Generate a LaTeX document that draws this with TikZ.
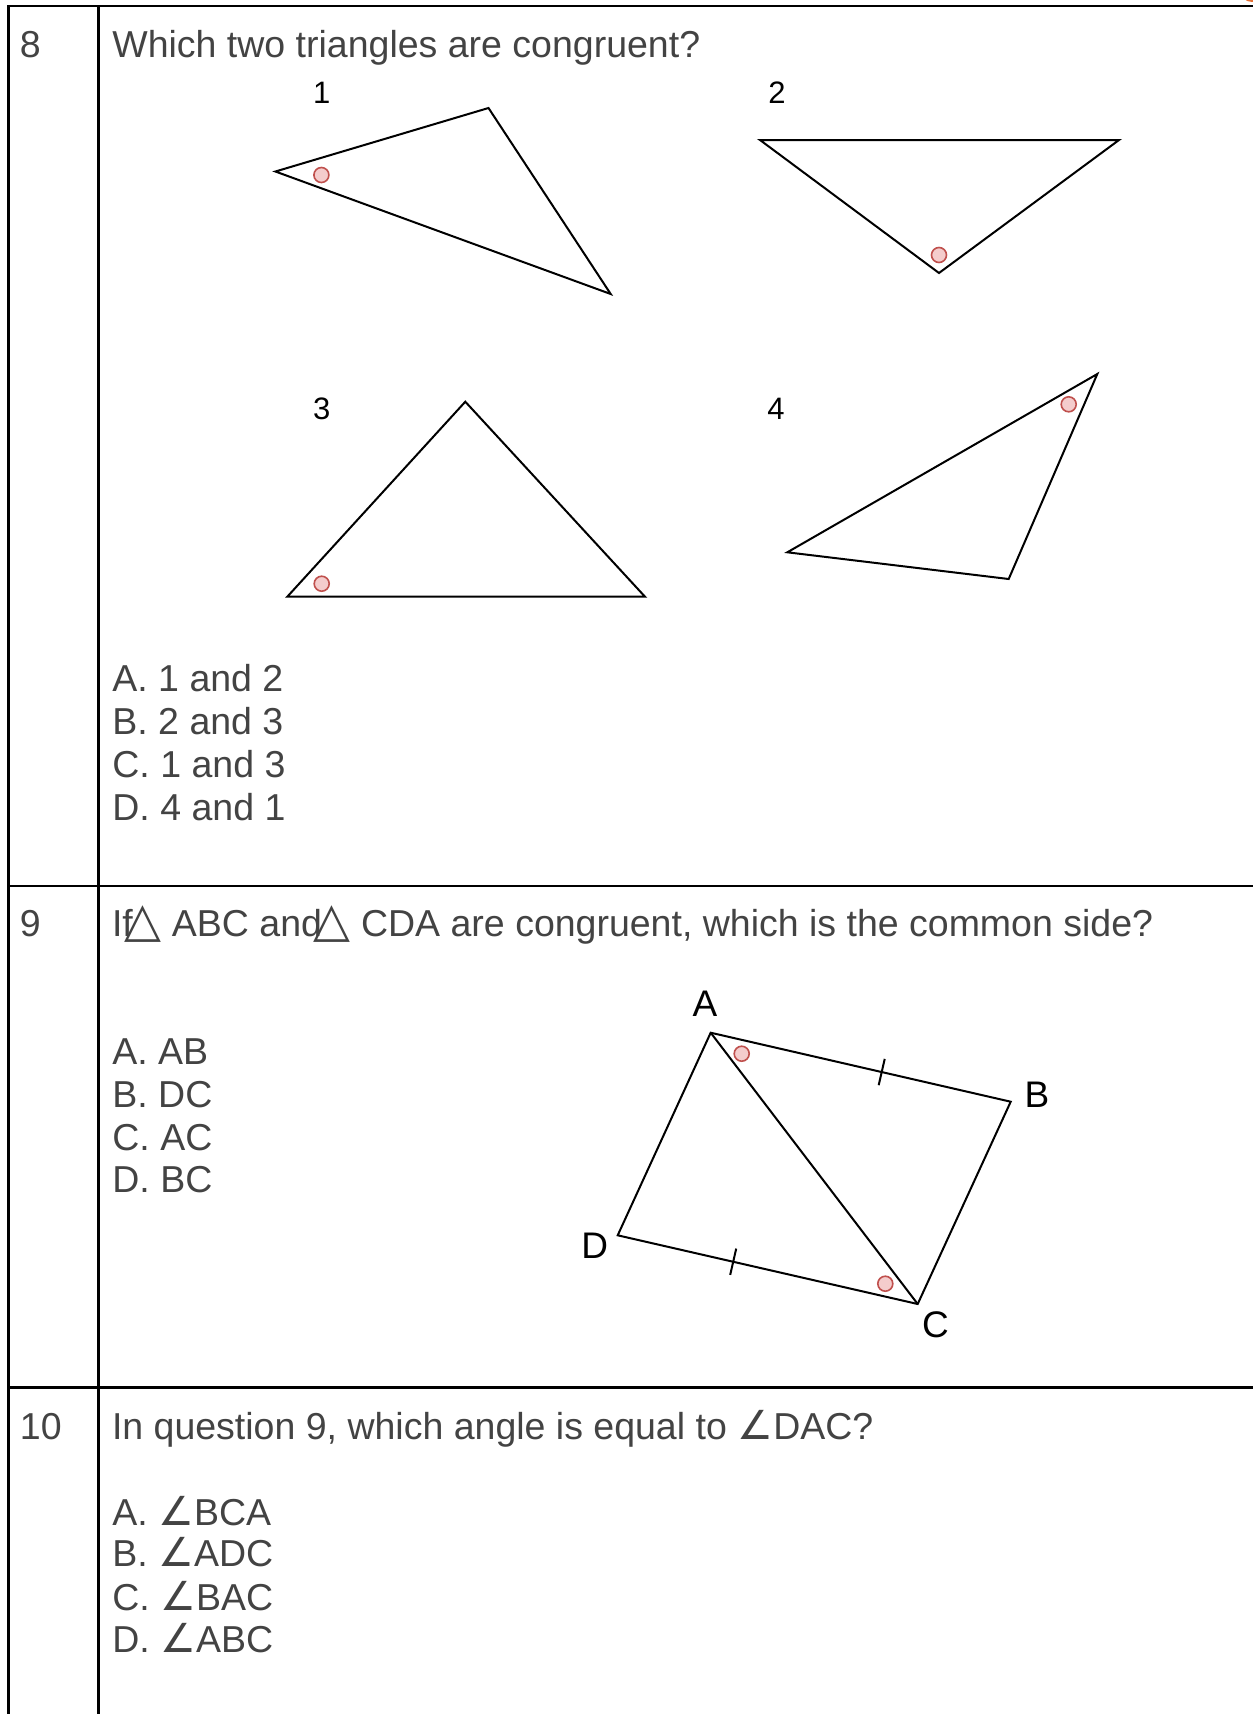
\documentclass[tikz,border=0pt]{standalone}
\usepackage{fontspec}
\setmainfont{Liberation Sans}
\newfontfamily\symfont{DejaVu Sans}
\definecolor{ink}{RGB}{67,67,67}
\definecolor{markfill}{RGB}{244,204,204}
\definecolor{markdraw}{RGB}{192,80,77}
\definecolor{corner}{RGB}{230,110,50}
\usetikzlibrary{calc}
\tikzset{
  qtext/.style={anchor=base west,inner sep=0pt,text=ink,font=\fontsize{18.75}{22}\selectfont},
  numlabel/.style={anchor=base,inner sep=0pt,font=\fontsize{15.5}{18}\selectfont},
  ptlabel/.style={inner sep=0pt,font=\fontsize{18.5}{21}\selectfont},
  gridline/.style={line width=1.3pt,black},
  figline/.style={line width=1pt,black,line join=miter},
  anglemark/.style={circle,fill=markfill,draw=markdraw,line width=0.8pt,minimum size=7.5pt,inner sep=0pt}
}
\newcommand{\tri}{\kern-0.22em{\symfont\fontsize{24}{24}\selectfont △}}
\newcommand{\ang}{{\symfont\fontsize{20}{22}\selectfont ∠}}

\begin{document}
\begin{tikzpicture}[x=0.5pt,y=-0.5pt]
  \fill[white] (0,0) rectangle (1253,1714);
  \useasboundingbox (0,0) rectangle (1253,1714);
  \fill[corner] (1252,-10) circle (6pt);

  % table
  \draw[gridline] (8.3,1714) -- (8.3,6) -- (1253,6);
  \draw[gridline] (98.3,6) -- (98.3,1714);
  \draw[gridline] (8.3,886) -- (1253,886);
  \draw[gridline] (8.3,1387.5) -- (1253,1387.5);

  % question 8
  \node[qtext] (n8) at (19.5,57) {8};
  \node[qtext] (q8) at (112,57) {Which two triangles are congruent?};
  \node[numlabel] (l1) at (321.7,103) {1};
  \node[numlabel] (l2) at (777,103) {2};
  \node[numlabel] (l3) at (321.7,419.5) {3};
  \node[numlabel] (l4) at (776,419.5) {4};

  \coordinate (t1a) at (275.4,171.5);
  \coordinate (t1b) at (488.5,108);
  \coordinate (t1c) at (610.7,294);
  \draw[figline] (t1a) -- (t1b) -- (t1c) -- cycle;
  \node[anglemark] (m1) at (321.4,175) {};

  \coordinate (t2a) at (760,140);
  \coordinate (t2b) at (1119,140);
  \coordinate (t2c) at (939,273);
  \draw[figline] (t2a) -- (t2b) -- (t2c) -- cycle;
  \node[anglemark] (m2) at (939,255) {};

  \coordinate (t3a) at (287.3,596.7);
  \coordinate (t3b) at (465.3,401.7);
  \coordinate (t3c) at (645,596.7);
  \draw[figline] (t3a) -- (t3b) -- (t3c) -- cycle;
  \node[anglemark] (m3) at (321.7,583.7) {};

  \coordinate (t4a) at (787.3,552.3);
  \coordinate (t4b) at (1097.3,374);
  \coordinate (t4c) at (1008.7,579);
  \draw[figline] (t4a) -- (t4b) -- (t4c) -- cycle;
  \node[anglemark] (m4) at (1068.7,404.3) {};

  \node[qtext] (o8a) at (112,691.7) {A. 1 and 2};
  \node[qtext] (o8b) at (112,734) {B. 2 and 3};
  \node[qtext] (o8c) at (112,777.3) {C. 1 and 3};
  \node[qtext] (o8d) at (112,820) {D. 4 and 1};

  % question 9
  \node[qtext] (n9) at (19.5,936) {9};
  \node[qtext] (q9) at (111.6,936) {If\tri{} ABC and\tri{} CDA are congruent, which is the common side?};
  \node[qtext] (o9a) at (112,1064) {A. AB};
  \node[qtext] (o9b) at (112,1107.3) {B. DC};
  \node[qtext] (o9c) at (112,1150) {C. AC};
  \node[qtext] (o9d) at (112,1192.7) {D. BC};

  \coordinate (A) at (710.7,1032.7);
  \coordinate (B) at (1010.7,1101.7);
  \coordinate (C) at (917.7,1304);
  \coordinate (D) at (617.7,1235.3);
  \draw[figline] (A) -- (B) -- (C) -- (D) -- cycle;
  \draw[figline] (A) -- (C);
  \coordinate (tab) at ($(A)!0.57!(B)$);
  \coordinate (tdc) at ($(D)!0.385!(C)$);
  \draw[figline] ($(tab)!6.75pt!90:(B)$) -- ($(tab)!6.75pt!-90:(B)$);
  \draw[figline] ($(tdc)!6.75pt!90:(C)$) -- ($(tdc)!6.75pt!-90:(C)$);
  \node[anglemark] (mA) at (741.7,1053.7) {};
  \node[anglemark] (mC) at (885.3,1283.7) {};
  \node[ptlabel] (lA) at (705,1004) {A};
  \node[ptlabel] (lB) at (1037,1095) {B};
  \node[ptlabel] (lC) at (935.5,1324.7) {C};
  \node[ptlabel] (lD) at (594.8,1245.7) {D};

  % question 10
  \node[qtext] (n10) at (19.5,1439.3) {10};
  \node[qtext] (q10) at (111.6,1439.3) {In question 9, which angle is equal to \ang DAC?};
  \node[qtext] (o10a) at (112,1525) {A. \ang BCA};
  \node[qtext] (o10b) at (112,1566.7) {B. \ang ADC};
  \node[qtext] (o10c) at (112,1610) {C. \ang BAC};
  \node[qtext] (o10d) at (112,1652.7) {D. \ang ABC};
\end{tikzpicture}
\end{document}
